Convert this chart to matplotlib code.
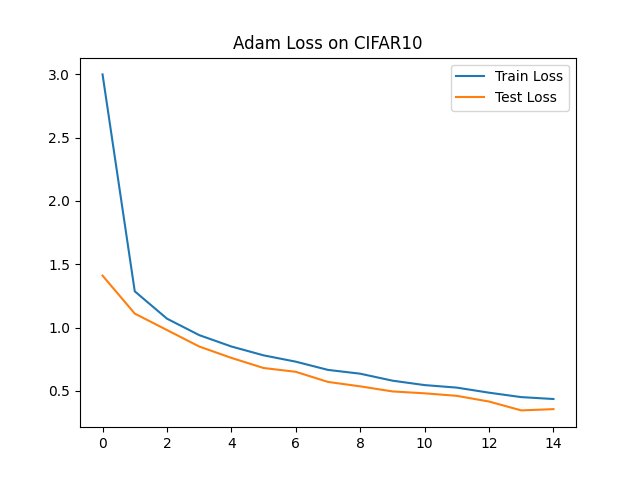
import matplotlib
matplotlib.use('Agg')
import matplotlib.pyplot as plt

epochs = list(range(15))
train_loss = [3.0, 1.286, 1.07, 0.94, 0.85, 0.78, 0.73, 0.665, 0.635, 0.58, 0.545, 0.525, 0.485, 0.45, 0.435]
test_loss = [1.41, 1.11, 0.98, 0.85, 0.76, 0.68, 0.65, 0.57, 0.535, 0.495, 0.48, 0.46, 0.415, 0.345, 0.355]

fig, ax = plt.subplots(figsize=(6.4, 4.8), dpi=100)
ax.plot(epochs, train_loss, label='Train Loss')
ax.plot(epochs, test_loss, label='Test Loss')
ax.set_title('Adam Loss on CIFAR10')
ax.legend()
plt.savefig('out.png')
